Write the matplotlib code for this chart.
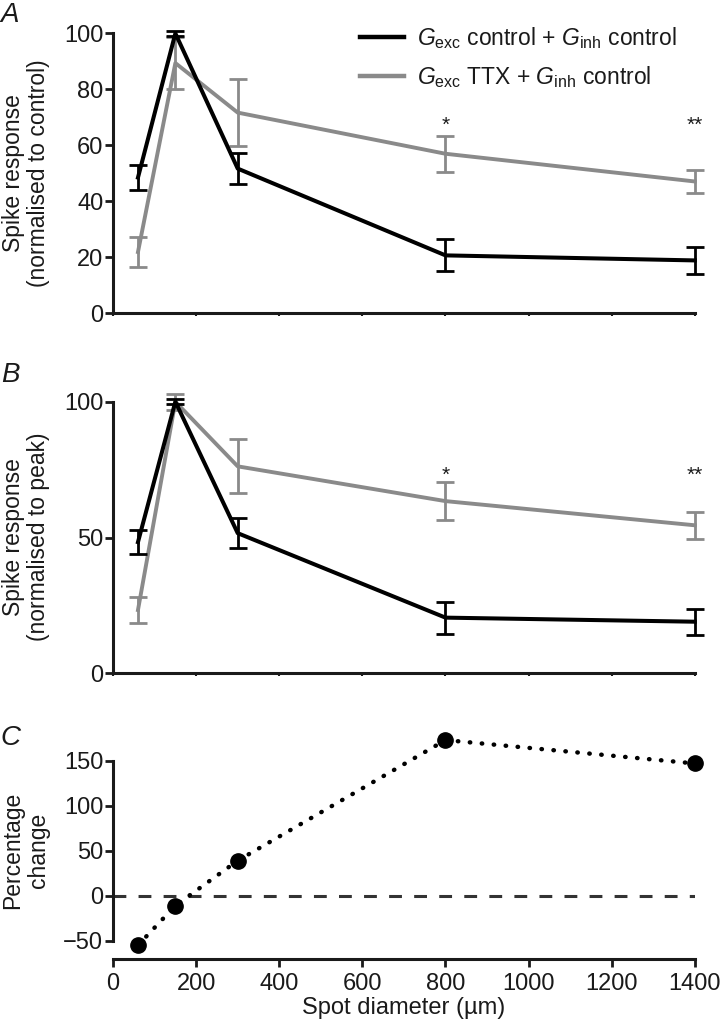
import matplotlib
matplotlib.use('Agg')
import matplotlib.pyplot as plt
from matplotlib.lines import Line2D
import numpy as np

plt.rcParams['font.family'] = ['Liberation Sans', 'DejaVu Sans']
plt.rcParams['mathtext.fontset'] = 'custom'
plt.rcParams['mathtext.rm'] = 'Liberation Sans'
plt.rcParams['mathtext.it'] = 'Liberation Sans:italic'

# data
spot = [60, 150, 300, 800, 1400]

a_ctrl = [48.5, 100, 51.7, 20.7, 18.9]
a_ctrl_err = [4.5, 1.0, 5.4, 5.7, 4.8]
a_ttx = [21.9, 89.4, 71.7, 57.0, 47.1]
a_ttx_err = [5.3, 9.4, 11.9, 6.4, 4.0]

b_ctrl = [48.3, 100, 51.6, 20.5, 19.0]
b_ctrl_err = [4.5, 1.0, 5.6, 5.9, 4.8]
b_ttx = [23.3, 100, 76.2, 63.4, 54.5]
b_ttx_err = [4.9, 3.0, 9.9, 7.0, 5.0]

pct_change = [-55, -11, 39, 173, 147]

star_x = [800, 1400]
star_txt = ['*', '**']

x_ticks = [0, 200, 400, 600, 800, 1000, 1200, 1400]

lbl_ctrl = r'$G_{\rm exc}$ control + $G_{\rm inh}$ control'
lbl_ttx = r'$G_{\rm exc}$ TTX + $G_{\rm inh}$ control'

txt = '#1a1a1a'
grey = '#8a8a8a'

fig = plt.figure(figsize=(7.2, 10.3), dpi=100)
axA = fig.add_axes([0.157, 0.6958, 0.808, 0.2718])
axB = fig.add_axes([0.157, 0.3463, 0.808, 0.2637])
axC = fig.add_axes([0.157, 0.0692, 0.808, 0.2184])


def style(ax, ymin, ymax, yticks, ybounds, xlabels):
    ax.set_xlim(0, 1400)
    ax.set_ylim(ymin, ymax)
    for s in ['top', 'right']:
        ax.spines[s].set_visible(False)
    for s in ['left', 'bottom']:
        ax.spines[s].set_linewidth(2.2)
        ax.spines[s].set_color(txt)
    ax.spines['left'].set_bounds(*ybounds)
    ax.spines['bottom'].set_bounds(0, 1400)
    ax.set_yticks(yticks)
    ax.set_xticks(x_ticks)
    ax.tick_params(axis='y', length=6, width=2, pad=1, labelsize=17,
                   colors=txt)
    if xlabels:
        ax.tick_params(axis='x', length=6, width=2, pad=4, labelsize=17,
                       colors=txt)
    else:
        ax.tick_params(axis='x', length=2.5, width=1.5, labelbottom=False,
                       colors=txt)
    ax.patch.set_alpha(0)


def panel(ax, ctrl, ctrl_err, ttx, ttx_err, star_y):
    ax.errorbar(spot, ttx, yerr=ttx_err, color=grey, lw=2.8, elinewidth=2,
                capsize=6.5, capthick=2, clip_on=False, zorder=2)
    ax.errorbar(spot, ctrl, yerr=ctrl_err, color='black', lw=2.9,
                elinewidth=2, capsize=6.5, capthick=2, clip_on=False,
                zorder=3)
    for x, s in zip(star_x, star_txt):
        ax.text(x, star_y, s, ha='center', va='center', fontsize=15,
                color=txt)


panel(axA, a_ctrl, a_ctrl_err, a_ttx, a_ttx_err, 67)
style(axA, 0, 100, [0, 20, 40, 60, 80, 100], (0, 100), False)

panel(axB, b_ctrl, b_ctrl_err, b_ttx, b_ttx_err, 73)
style(axB, 0, 100, [0, 50, 100], (0, 100), False)

axC.axhline(0, xmin=0, xmax=1, color='#333333', lw=2.2,
            linestyle=(0, (4.2, 4)))
axC.plot(spot, pct_change, color='black', lw=3.2, linestyle=(0, (0.1, 2.6)),
         dash_capstyle='round', marker='o', markersize=11, clip_on=False,
         zorder=3)
style(axC, -70, 180, [-50, 0, 50, 100, 150], (-50, 150), True)
axC.set_yticklabels(['\u221250', '0', '50', '100', '150'])
axC.set_xlabel('Spot diameter (\u00b5m)', fontsize=17, color=txt, labelpad=2)

# legend in panel A, plain lines as handles
handles = [Line2D([], [], color='black', lw=3.2),
           Line2D([], [], color=grey, lw=3.2)]
leg = axA.legend(handles, [lbl_ctrl, lbl_ttx], loc='upper left',
                 bbox_to_anchor=(0.5, 0.976), bbox_transform=fig.transFigure,
                 frameon=False, fontsize=16.5, handlelength=1.9,
                 handletextpad=0.6, labelspacing=0.6, borderpad=0,
                 borderaxespad=0)
for t in leg.get_texts():
    t.set_color(txt)

# y labels and panel letters
fig.text(0.036, 1 - 173 / 1030, 'Spike response\n(normalised to control)',
         rotation=90, ha='center', va='center', fontsize=16.5, color=txt,
         linespacing=1.15)
fig.text(0.036, 1 - 537 / 1030, 'Spike response\n(normalised to peak)',
         rotation=90, ha='center', va='center', fontsize=16.5, color=txt,
         linespacing=1.15)
fig.text(0.036, 1 - 850 / 1030, 'Percentage\nchange',
         rotation=90, ha='center', va='center', fontsize=16.5, color=txt,
         linespacing=1.15)

for y, s in [(15, 'A'), (375, 'B'), (738, 'C')]:
    fig.text(0.001, 1 - y / 1030, s, fontsize=20, style='italic',
             ha='left', va='center', color=txt)

fig.savefig('out.png', dpi=100)
